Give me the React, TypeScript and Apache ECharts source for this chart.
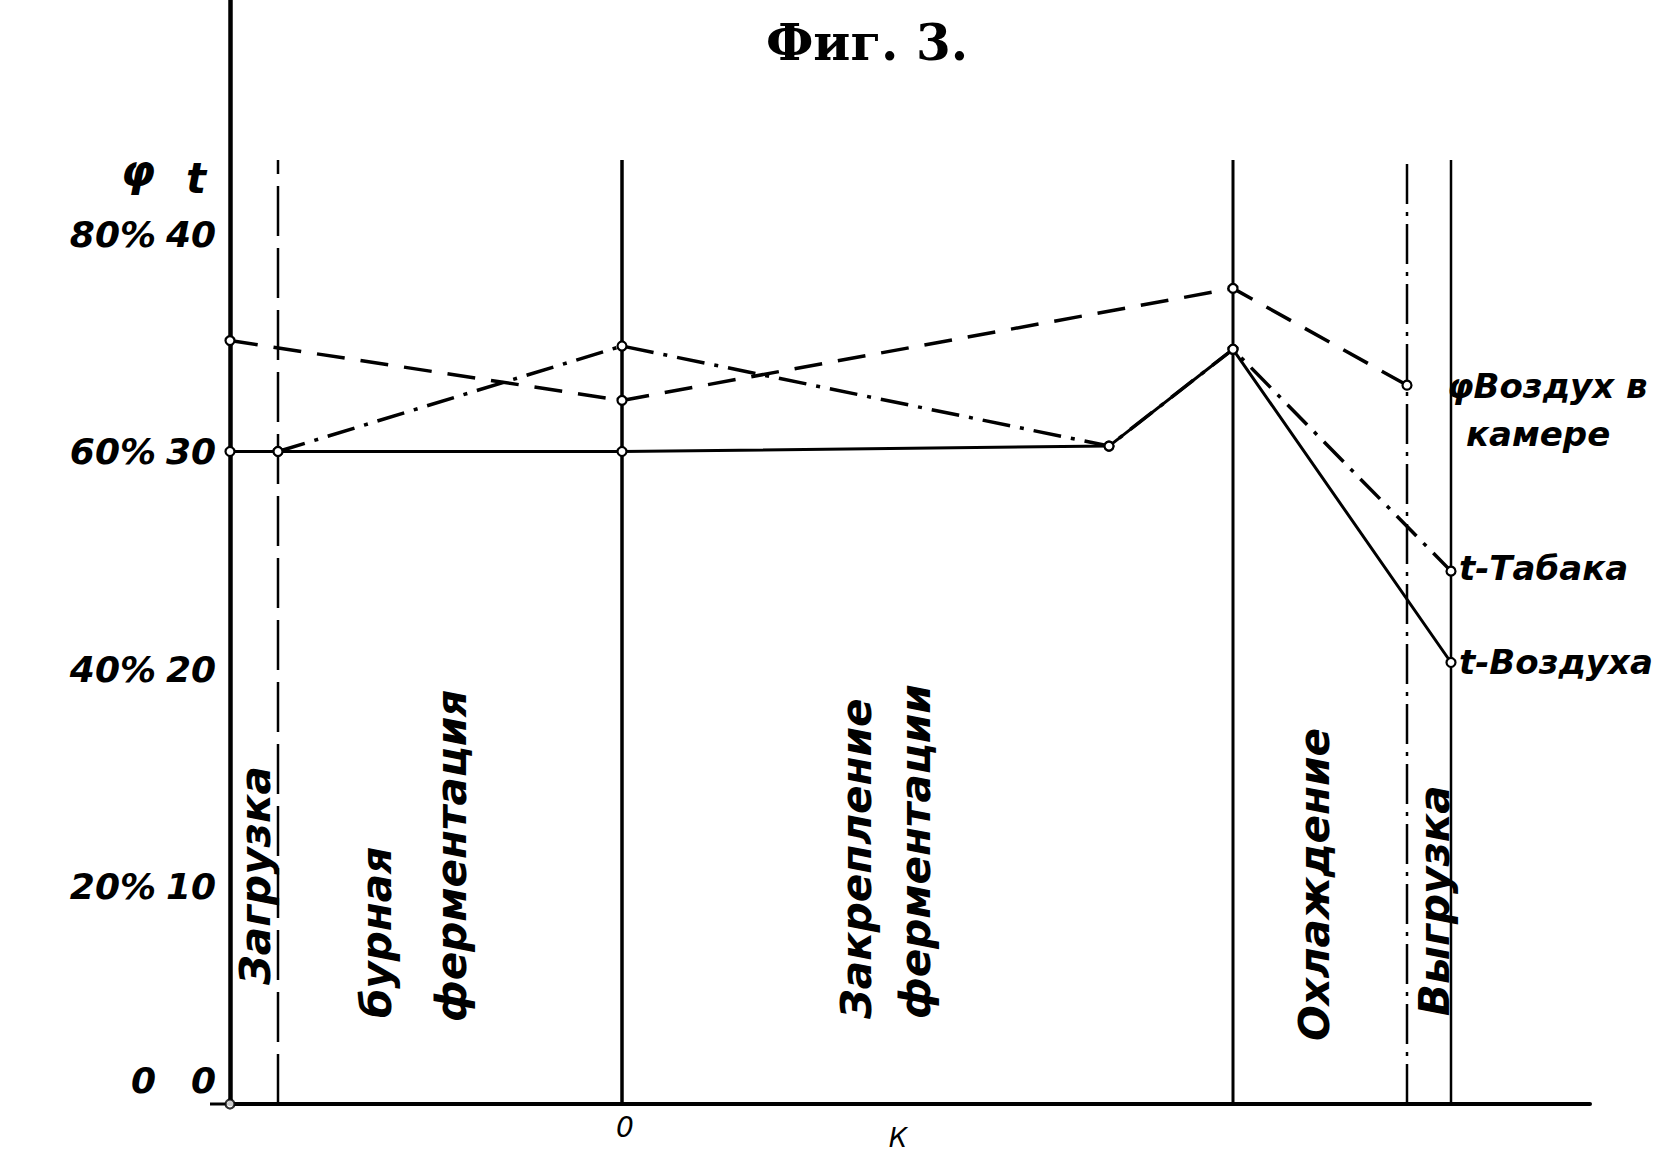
import React, { useEffect, useRef } from "react";
import * as echarts from "echarts";

// ---- data ----
const tempTickLabels = ["0", "10", "20", "30", "40"];
const humidityTickLabels = ["0", "20%", "40%", "60%", "80%"];

const phiX = [0, 39.2, 100.3, 117.7];
const phiValues = [70.2, 64.7, 75.0, 66.1];

const tobaccoX = [4.8, 39.2, 87.9, 100.3, 122.1];
const tobaccoValues = [30.0, 34.85, 30.25, 34.7, 24.5];

const airX = [0, 4.8, 39.2, 87.9, 100.3, 122.1];
const airValues = [30.0, 30.0, 30.0, 30.25, 34.7, 20.3];

const phaseBoundaries = [4.8, 39.2, 100.3, 117.7, 122.1];
const phaseLineTop = 43.4;

const phaseLabels = ["Загрузка", "бурная", "ферментация", "Закрепление", "ферментации", "Охлаждение", "Выгрузка"];
const seriesLabels = ["φВоздух в", "камере", "t-Табака", "t-Воздуха"];

const T_MAX = 50.76;
const PHI_MAX = T_MAX * 2;

const ITALIC = { fontFamily: "DejaVu Sans", fontStyle: "italic" as const, fontWeight: "bold" as const, fill: "#000" };

export default function App() {
  const ref = useRef<HTMLDivElement>(null);
  useEffect(() => {
    if (!ref.current) return;
    const chart = echarts.init(ref.current, undefined, { renderer: "svg" });

    const boundaryStyles = [
      { width: 2.5, type: [50, 12] as any },
      { width: 3.5, type: "solid" as any },
      { width: 3, type: "solid" as any },
      { width: 2.5, type: [40, 8, 4, 8] as any },
      { width: 2.5, type: "solid" as any },
    ];

    const marker = {
      symbol: "circle",
      symbolSize: 9,
      itemStyle: { color: "#fff", borderColor: "#000", borderWidth: 2.2 },
    };

    const phaseSeries = phaseBoundaries.map((x, i) => ({
      type: "line",
      data: [[x, 0], [x, phaseLineTop]],
      showSymbol: false,
      silent: true,
      lineStyle: { color: "#000", ...boundaryStyles[i] },
      z: 1,
    }));

    const tFmt = (v: number) => {
      const idx = Math.round(v / 10);
      if (Math.abs(v - idx * 10) > 1e-6 || idx > 4) return "";
      return idx === 0 ? "{z|" + tempTickLabels[0] + "}" : tempTickLabels[idx];
    };
    const phiFmt = (v: number) => {
      const idx = Math.round(v / 20);
      if (Math.abs(v - idx * 20) > 1e-6 || idx > 4) return "";
      return idx === 0 ? "{z|" + humidityTickLabels[0] + "}" : humidityTickLabels[idx];
    };
    const labelStyle = {
      color: "#000",
      fontFamily: "DejaVu Sans",
      fontStyle: "italic",
      fontWeight: "bold",
      fontSize: 36,
      rich: {
        z: {
          fontFamily: "DejaVu Sans",
          fontStyle: "italic",
          fontWeight: "bold",
          fontSize: 36,
          color: "#000",
          padding: [0, 0, 48, 0],
        },
      },
    };

    const phaseLabelPos = [
      [255, 985],
      [376, 1018],
      [451, 1022],
      [856, 1019],
      [915, 1019],
      [1314, 1041],
      [1434, 1016],
    ];
    const seriesLabelPos = [
      [1447, 386],
      [1466, 434],
      [1459, 568],
      [1459, 662],
    ];

    chart.setOption({
      animation: false,
      backgroundColor: "#fff",
      grid: { left: 230, right: 70, top: 0, bottom: 52 },
      xAxis: {
        type: "value",
        min: 0,
        max: 136,
        axisLine: { show: true, onZero: false, lineStyle: { color: "#000", width: 4 } },
        axisTick: { show: false },
        axisLabel: { show: false },
        splitLine: { show: false },
      },
      yAxis: [
        {
          type: "value",
          min: 0,
          max: T_MAX,
          interval: 10,
          position: "left",
          axisLine: { show: true, onZero: false, lineStyle: { color: "#000", width: 4.5 } },
          axisTick: { show: false },
          splitLine: { show: false },
          axisLabel: { ...labelStyle, margin: 14, formatter: tFmt },
        },
        {
          type: "value",
          min: 0,
          max: PHI_MAX,
          interval: 20,
          position: "left",
          axisLine: { show: false },
          axisTick: { show: false },
          splitLine: { show: false },
          axisLabel: { ...labelStyle, margin: 74, formatter: phiFmt },
        },
      ],
      series: [
        ...phaseSeries,
        {
          name: "φ Воздух в камере",
          type: "line",
          yAxisIndex: 1,
          data: phiX.map((x, i) => [x, phiValues[i]]),
          ...marker,
          lineStyle: { color: "#000", width: 3.5, type: [28, 16] },
          z: 3,
        },
        {
          name: "t-Табака",
          type: "line",
          data: tobaccoX.map((x, i) => [x, tobaccoValues[i]]),
          ...marker,
          lineStyle: { color: "#000", width: 3.5, type: [28, 10, 4, 10] },
          z: 3,
        },
        {
          name: "t-Воздуха",
          type: "line",
          data: airX.map((x, i) => [x, airValues[i]]),
          ...marker,
          lineStyle: { color: "#000", width: 3, type: "solid" },
          z: 4,
        },
        {
          type: "scatter",
          data: [[0, 0]],
          ...marker,
          z: 5,
        },
      ],
      graphic: [
        {
          type: "text",
          x: 867,
          y: 42,
          style: {
            text: "Фиг. 3.",
            fontFamily: "DejaVu Serif",
            fontWeight: "bold",
            fontSize: 50,
            fill: "#000",
            textAlign: "center",
            textVerticalAlign: "middle",
          },
        },
        {
          type: "text",
          x: 138,
          y: 170,
          style: { ...ITALIC, text: "φ", fontSize: 44, textAlign: "center", textVerticalAlign: "middle" },
        },
        {
          type: "text",
          x: 196,
          y: 178,
          style: { ...ITALIC, text: "t", fontSize: 42, textAlign: "center", textVerticalAlign: "middle" },
        },
        ...phaseLabels.map((t, i) => ({
          type: "text",
          x: phaseLabelPos[i][0],
          y: phaseLabelPos[i][1],
          rotation: Math.PI / 2,
          style: { ...ITALIC, text: t, fontSize: 42, textAlign: "left", textVerticalAlign: "middle" },
        })),
        ...seriesLabels.map((t, i) => ({
          type: "text",
          x: seriesLabelPos[i][0],
          y: seriesLabelPos[i][1],
          style: { ...ITALIC, text: t, fontSize: 34, textAlign: "left", textVerticalAlign: "middle" },
        })),
        {
          type: "text",
          x: 625,
          y: 1127,
          style: { ...ITALIC, fontWeight: "normal", text: "0", fontSize: 28, textAlign: "center", textVerticalAlign: "middle" },
        },
        {
          type: "text",
          x: 898,
          y: 1138,
          style: { ...ITALIC, fontWeight: "normal", text: "К", fontSize: 26, textAlign: "center", textVerticalAlign: "middle" },
        },
        {
          type: "line",
          shape: { x1: 210, y1: 1104, x2: 230, y2: 1104 },
          style: { stroke: "#000", lineWidth: 3 },
        },
      ],
    });
    return () => chart.dispose();
  }, []);
  return (
    <div
      ref={ref}
      style={{ position: "fixed", left: 0, top: 0, width: 1660, height: 1156, background: "#fff" }}
    />
  );
}
